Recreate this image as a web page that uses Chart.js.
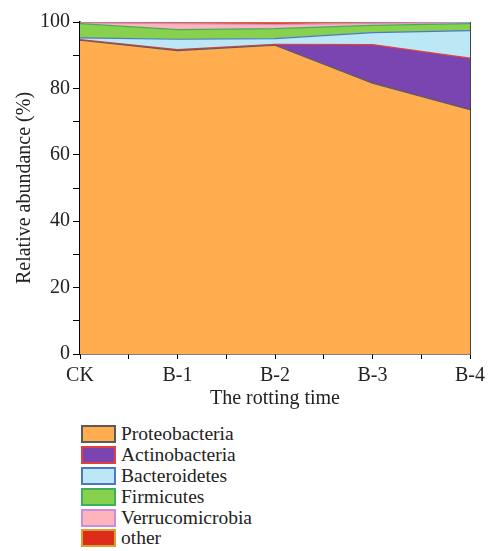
<!DOCTYPE html>
<html>
<head>
<meta charset="utf-8">
<script src="https://cdn.jsdelivr.net/npm/chart.js@4"></script>
<style>
  body { margin: 0; background: #fff; font-family: "Liberation Serif", serif; }
  #wrap { position: relative; width: 492px; height: 412px; }
  #legend { position: absolute; left: 81px; top: 424px; font-size: 19.5px; color: #222; }
  .item { display: flex; align-items: center; height: 20.8px; }
  .box { width: 31px; height: 14px; margin-right: 5px; box-sizing: content-box; }
</style>
</head>
<body>
<div id="wrap"><canvas id="chart"></canvas></div>
<div id="legend"></div>
<script>
// categories and series (percent)
const categories = ['CK', 'B-1', 'B-2', 'B-3', 'B-4'];
const proteobacteria = [94.5, 91.4, 93.0, 81.6, 73.6];
const actinobacteria = [0.2, 0.3, 0.3, 11.6, 15.5];
const bacteroidetes = [0.5, 3.1, 1.7, 3.6, 8.3];
const firmicutes = [4.3, 2.9, 3.0, 2.2, 2.1];
const verrucomicrobia = [0.2, 1.8, 1.3, 0.6, 0.3];
const other = [0.3, 0.5, 0.7, 0.4, 0.2];
const yTicks = [0, 20, 40, 60, 80, 100];

const series = [
    { label: 'Proteobacteria', data: proteobacteria, fill: '#FFAD4F', line: '#5b5b5b' },
    { label: 'Actinobacteria', data: actinobacteria, fill: '#7A45B1', line: '#E2403C' },
    { label: 'Bacteroidetes', data: bacteroidetes, fill: '#BCE7F4', line: '#4A78C6' },
    { label: 'Firmicutes', data: firmicutes, fill: '#88D14E', line: '#3CB05E' },
    { label: 'Verrucomicrobia', data: verrucomicrobia, fill: '#FFB3BA', line: '#C98CE0' },
    { label: 'other', data: other, fill: '#DD2C1A', line: '#D9A032' }
];

const font = { family: '"Liberation Serif", serif', size: 20 };
const xFont = { family: '"Liberation Serif", serif', size: 20, lineHeight: 1 };

const datasets = series.map((s, i) => ({
    label: s.label,
    data: s.data.map((v, k) => ({ x: k, y: v })),
    backgroundColor: s.fill,
    borderColor: s.line,
    borderWidth: 1.2,
    pointRadius: 0,
    tension: 0,
    fill: i === 0 ? 'origin' : '-1'
}));

const chart = new Chart(document.getElementById('chart'), {
    type: 'line',
    data: { datasets: datasets },
    options: {
        responsive: true,
        maintainAspectRatio: false,
        animation: false,
        layout: { padding: { top: 22, right: 6, left: 9, bottom: 0 } },
        plugins: { legend: { display: false }, tooltip: { enabled: false } },
        scales: {
            x: {
                type: 'linear',
                min: 0,
                max: categories.length - 1,
                grid: { display: true, drawOnChartArea: false, drawTicks: true, tickLength: 5, color: '#000' },
                border: { color: '#000', width: 1.5 },
                ticks: {
                    stepSize: 0.5,
                    autoSkip: false,
                    maxRotation: 0,
                    color: '#222',
                    font: xFont,
                    padding: 7,
                    callback: v => Number.isInteger(v) ? categories[v] : ''
                },
                title: { display: true, text: 'The rotting time', color: '#222', font: xFont, padding: { top: -4, bottom: 3 } }
            },
            y: {
                stacked: true,
                min: 0,
                max: 100,
                grid: { display: true, drawOnChartArea: false, tickLength: 7, color: '#000' },
                border: { color: '#000', width: 1.5 },
                ticks: {
                    stepSize: 10,
                    color: '#222',
                    font: font,
                    padding: 3,
                    callback: v => yTicks.includes(v) ? v : ''
                },
                title: { display: true, text: 'Relative abundance (%)', color: '#222', font: font, padding: { top: 4, bottom: 0 } }
            },
            y2: {
                position: 'right',
                min: 0,
                max: 100,
                grid: { display: false },
                ticks: { display: false },
                border: { color: '#444', width: 1 }
            }
        }
    }
});

// legend drawn from the same series list
const legend = document.getElementById('legend');
series.forEach(s => {
    const row = document.createElement('div');
    row.className = 'item';
    row.innerHTML = `<span class="box" style="background:${s.fill};border:2px solid ${s.line}"></span>${s.label}`;
    legend.appendChild(row);
});
</script>
</body>
</html>
